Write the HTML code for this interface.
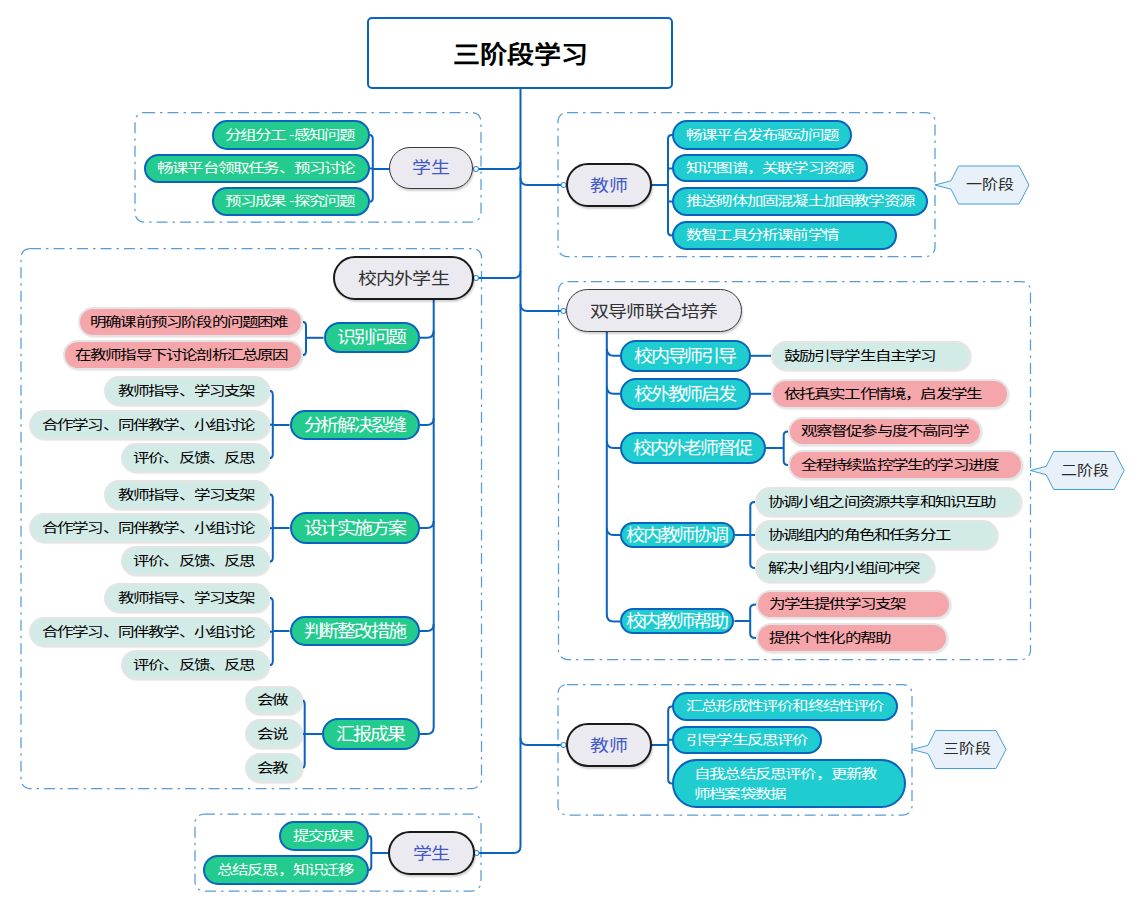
<!DOCTYPE html>
<html lang="zh-CN"><head><meta charset="utf-8"><title>三阶段学习</title>
<style>
html,body{margin:0;padding:0;background:#fff;}
body{width:1142px;height:911px;position:relative;overflow:hidden;font-family:"Liberation Sans",sans-serif;}
svg{position:absolute;left:0;top:0;}
.n{position:absolute;box-sizing:border-box;display:flex;align-items:center;justify-content:center;white-space:nowrap;line-height:1;}
.p{border-radius:999px;}
</style></head><body>
<svg width="1142" height="911" viewBox="0 0 1142 911">
<rect x="135" y="112.5" width="346" height="109.5" rx="9" ry="9" fill="none" stroke="#559cd8" stroke-width="1.25" stroke-dasharray="11 5 2.5 5"/>
<rect x="558" y="112.5" width="377" height="144.0" rx="9" ry="9" fill="none" stroke="#559cd8" stroke-width="1.25" stroke-dasharray="11 5 2.5 5"/>
<rect x="21" y="248.5" width="460.5" height="540.0" rx="9" ry="9" fill="none" stroke="#559cd8" stroke-width="1.25" stroke-dasharray="11 5 2.5 5"/>
<rect x="558.5" y="281.5" width="472.0" height="378.0" rx="9" ry="9" fill="none" stroke="#559cd8" stroke-width="1.25" stroke-dasharray="11 5 2.5 5"/>
<rect x="195" y="814" width="286" height="77" rx="9" ry="9" fill="none" stroke="#559cd8" stroke-width="1.25" stroke-dasharray="11 5 2.5 5"/>
<rect x="558" y="684.5" width="354" height="130.5" rx="9" ry="9" fill="none" stroke="#559cd8" stroke-width="1.25" stroke-dasharray="11 5 2.5 5"/>
<path d="M520.5 88 V846" stroke="#0a63bd" stroke-width="2" fill="none" />
<path d="M476 169 H513.5 Q520.5 169 520.5 162" stroke="#0a63bd" stroke-width="2" fill="none" />
<path d="M476 278 H513.5 Q520.5 278 520.5 271" stroke="#0a63bd" stroke-width="2" fill="none" />
<path d="M476.5 853 H513.5 Q520.5 853 520.5 846" stroke="#0a63bd" stroke-width="2" fill="none" />
<path d="M520.5 178 Q520.5 185 527.5 185 H563.5" stroke="#0a63bd" stroke-width="2" fill="none" />
<path d="M520.5 304 Q520.5 311 527.5 311 H563.5" stroke="#0a63bd" stroke-width="2" fill="none" />
<path d="M520.5 738 Q520.5 745 527.5 745 H563.5" stroke="#0a63bd" stroke-width="2" fill="none" />
<path d="M369.5 135 Q372.8 135 372.8 139 V197.75 Q372.8 201.75 369.5 201.75" stroke="#0a63bd" stroke-width="2" fill="none" />
<path d="M372.8 168.5 H369.5" stroke="#0a63bd" stroke-width="2" fill="none" />
<path d="M372.8 169 H389" stroke="#0a63bd" stroke-width="2" fill="none" />
<path d="M672 135 Q668 135 668 139 V231.5 Q668 235.5 672 235.5" stroke="#0a63bd" stroke-width="2" fill="none" />
<path d="M668 168.5 H672" stroke="#0a63bd" stroke-width="2" fill="none" />
<path d="M668 201.5 H672" stroke="#0a63bd" stroke-width="2" fill="none" />
<path d="M668 185 H652" stroke="#0a63bd" stroke-width="2" fill="none" />
<path d="M369 836 Q371.3 836 371.3 840 V866 Q371.3 870 369 870" stroke="#0a63bd" stroke-width="2" fill="none" />
<path d="M371.3 853 H388.5" stroke="#0a63bd" stroke-width="2" fill="none" />
<path d="M672 706.5 Q668.2 706.5 668.2 710.5 V779.5 Q668.2 783.5 672 783.5" stroke="#0a63bd" stroke-width="2" fill="none" />
<path d="M668.2 739.75 H672" stroke="#0a63bd" stroke-width="2" fill="none" />
<path d="M668.2 745 H651.5" stroke="#0a63bd" stroke-width="2" fill="none" />
<path d="M433.7 299 V726.9 Q433.7 733.9 426.7 733.9 H420" stroke="#0a63bd" stroke-width="2" fill="none" />
<path d="M433.7 330.8 Q433.7 337.8 426.7 337.8 H420" stroke="#0a63bd" stroke-width="2" fill="none" />
<path d="M433.7 418 Q433.7 425 426.7 425 H420" stroke="#0a63bd" stroke-width="2" fill="none" />
<path d="M433.7 521 Q433.7 528 426.7 528 H420" stroke="#0a63bd" stroke-width="2" fill="none" />
<path d="M433.7 624 Q433.7 631 426.7 631 H420" stroke="#0a63bd" stroke-width="2" fill="none" />
<path d="M303 322 Q306 322 306 326 V351 Q306 355 303 355" stroke="#0a63bd" stroke-width="2" fill="none" />
<path d="M306 337.8 H323.5" stroke="#0a63bd" stroke-width="2" fill="none" />
<path d="M270 391 Q272.8 391 272.8 395 V454 Q272.8 458 270 458" stroke="#0a63bd" stroke-width="2" fill="none" />
<path d="M272.8 424.7 H270" stroke="#0a63bd" stroke-width="2" fill="none" />
<path d="M272.8 425 H289.5" stroke="#0a63bd" stroke-width="2" fill="none" />
<path d="M270 494.5 Q272.8 494.5 272.8 498.5 V557.5 Q272.8 561.5 270 561.5" stroke="#0a63bd" stroke-width="2" fill="none" />
<path d="M272.8 528.2 H270" stroke="#0a63bd" stroke-width="2" fill="none" />
<path d="M272.8 528 H289.5" stroke="#0a63bd" stroke-width="2" fill="none" />
<path d="M270 598 Q272.8 598 272.8 602 V661 Q272.8 665 270 665" stroke="#0a63bd" stroke-width="2" fill="none" />
<path d="M272.8 631.7 H270" stroke="#0a63bd" stroke-width="2" fill="none" />
<path d="M272.8 631 H289.5" stroke="#0a63bd" stroke-width="2" fill="none" />
<path d="M303 700.75 Q304.7 700.75 304.7 704.75 V763.5 Q304.7 767.5 303 767.5" stroke="#0a63bd" stroke-width="2" fill="none" />
<path d="M304.7 734 H303" stroke="#0a63bd" stroke-width="2" fill="none" />
<path d="M304.7 734 H322" stroke="#0a63bd" stroke-width="2" fill="none" />
<path d="M606.8 331.5 V614.5 Q606.8 621.5 613.8 621.5 H620" stroke="#0a63bd" stroke-width="2" fill="none" />
<path d="M606.8 348.8 Q606.8 355.8 613.8 355.8 H620" stroke="#0a63bd" stroke-width="2" fill="none" />
<path d="M606.8 386.8 Q606.8 393.8 613.8 393.8 H620" stroke="#0a63bd" stroke-width="2" fill="none" />
<path d="M606.8 441 Q606.8 448 613.8 448 H620" stroke="#0a63bd" stroke-width="2" fill="none" />
<path d="M606.8 528 Q606.8 535 613.8 535 H620" stroke="#0a63bd" stroke-width="2" fill="none" />
<path d="M750.5 355.8 H771" stroke="#0a63bd" stroke-width="2" fill="none" />
<path d="M750.5 393.8 H771.5" stroke="#0a63bd" stroke-width="2" fill="none" />
<path d="M788 431.5 Q783.7 431.5 783.7 435.5 V461 Q783.7 465 788 465" stroke="#0a63bd" stroke-width="2" fill="none" />
<path d="M783.7 448 H766" stroke="#0a63bd" stroke-width="2" fill="none" />
<path d="M755 502 Q750.3 502 750.3 506 V564 Q750.3 568 755 568" stroke="#0a63bd" stroke-width="2" fill="none" />
<path d="M750.3 535 H755" stroke="#0a63bd" stroke-width="2" fill="none" />
<path d="M750.3 535 H735" stroke="#0a63bd" stroke-width="2" fill="none" />
<path d="M756 604.5 Q750.2 604.5 750.2 608.5 V634 Q750.2 638 756 638" stroke="#0a63bd" stroke-width="2" fill="none" />
<path d="M750.2 621 H734.5" stroke="#0a63bd" stroke-width="2" fill="none" />
<circle cx="476" cy="169" r="2.5" fill="#fff" stroke="#3d8fd6" stroke-width="1.1"/>
<circle cx="563.6" cy="185" r="2.5" fill="#fff" stroke="#3d8fd6" stroke-width="1.1"/>
<circle cx="476" cy="278" r="2.5" fill="#fff" stroke="#3d8fd6" stroke-width="1.1"/>
<circle cx="563.4" cy="311" r="2.5" fill="#fff" stroke="#3d8fd6" stroke-width="1.1"/>
<circle cx="563.5" cy="745" r="2.5" fill="#fff" stroke="#3d8fd6" stroke-width="1.1"/>
<circle cx="476.5" cy="853" r="2.5" fill="#fff" stroke="#3d8fd6" stroke-width="1.1"/>
<polygon points="958.5,166 1019,166 1029,185 1019,204 958.5,204 951,189.2 935,185 951,180.8" fill="#e8f0f9" stroke="#45a0d8" stroke-width="1"/>
<polygon points="1053.7,451.5 1114.2,451.5 1124.2,470.5 1114.2,489.5 1053.7,489.5 1046.2,474.7 1030.2,470.5 1046.2,466.3" fill="#e8f0f9" stroke="#45a0d8" stroke-width="1"/>
<polygon points="935.5,730.5 996,730.5 1006,749.5 996,768.5 935.5,768.5 928,753.7 912,749.5 928,745.3" fill="#e8f0f9" stroke="#45a0d8" stroke-width="1"/>
</svg>
<div class="n" style="left:367px;top:17px;width:306px;height:72px;border:2px solid #0a63bd;border-radius:5px;background:#fff;font-weight:bold;color:#000;padding-top:5px;"><span style="font-size:27px;display:inline-block;transform:translateY(0px) scaleY(0.88)">三阶段学习</span></div>
<div class="n p" style="left:389px;top:147px;width:84px;height:42px;border:1.5px solid #3a3a3a;background:#eaeaf0;color:#4458c8;box-shadow:1px 2px 2px rgba(0,0,0,.18);font-weight:350;"><span style="font-size:19px;letter-spacing:-0.75px;margin-right:0.75px;display:inline-block;transform:translateY(-1.3px) scaleY(0.86)">学生</span></div>
<div class="n p" style="left:212px;top:120px;width:158px;height:30px;border:2px solid #0a63bd;background:#23cb8e;color:#fff;font-weight:350;justify-content:flex-end;padding-right:11.7px;"><span style="font-size:16.5px;letter-spacing:-1.8px;margin-right:1.8px;display:inline-block;transform:translateY(-0.5px) scaleY(0.76)">分组分工<span style="margin-left:3.5px;margin-right:1px">-</span>感知问题</span></div>
<div class="n p" style="left:144px;top:154px;width:226px;height:29px;border:2px solid #0a63bd;background:#23cb8e;color:#fff;font-weight:350;justify-content:flex-end;padding-right:11.7px;"><span style="font-size:16.5px;letter-spacing:-1.8px;margin-right:1.8px;display:inline-block;transform:translateY(-0.5px) scaleY(0.76)">畅课平台领取任务、预习讨论</span></div>
<div class="n p" style="left:212px;top:187px;width:158px;height:29px;border:2px solid #0a63bd;background:#23cb8e;color:#fff;font-weight:350;justify-content:flex-end;padding-right:11.7px;"><span style="font-size:16.5px;letter-spacing:-1.8px;margin-right:1.8px;display:inline-block;transform:translateY(-0.5px) scaleY(0.76)">预习成果<span style="margin-left:3.5px;margin-right:1px">-</span>探究问题</span></div>
<div class="n p" style="left:566px;top:163px;width:86px;height:44px;border:2px solid #1a1a1a;background:#eaeaf0;color:#4458c8;box-shadow:1px 2px 2px rgba(0,0,0,.18);font-weight:350;"><span style="font-size:19px;letter-spacing:-0.75px;margin-right:0.75px;display:inline-block;transform:translateY(-0.5px) scaleY(0.86)">教师</span></div>
<div class="n p" style="left:672px;top:120px;width:180px;height:30px;border:2px solid #0a63bd;background:#1fcdd1;color:#fff;font-weight:350;justify-content:flex-start;padding-left:12px;"><span style="font-size:16.5px;letter-spacing:-1.8px;margin-right:1.8px;display:inline-block;transform:translateY(-0.5px) scaleY(0.76)">畅课平台发布驱动问题</span></div>
<div class="n p" style="left:672px;top:154px;width:196px;height:28px;border:2px solid #0a63bd;background:#1fcdd1;color:#fff;font-weight:350;justify-content:flex-start;padding-left:12px;"><span style="font-size:16.5px;letter-spacing:-1.8px;margin-right:1.8px;display:inline-block;transform:translateY(-0.5px) scaleY(0.76)">知识图谱，关联学习资源</span></div>
<div class="n p" style="left:672px;top:187px;width:256px;height:29px;border:2px solid #0a63bd;background:#1fcdd1;color:#fff;font-weight:350;justify-content:flex-start;padding-left:12px;"><span style="font-size:16.5px;letter-spacing:-1.8px;margin-right:1.8px;display:inline-block;transform:translateY(-0.5px) scaleY(0.76)">推送砌体加固混凝土加固教学资源</span></div>
<div class="n p" style="left:672px;top:221px;width:225px;height:29px;border:2px solid #0a63bd;background:#1fcdd1;color:#fff;font-weight:350;justify-content:flex-start;padding-left:12px;"><span style="font-size:16.5px;letter-spacing:-1.8px;margin-right:1.8px;display:inline-block;transform:translateY(-0.5px) scaleY(0.76)">数智工具分析课前学情</span></div>
<div class="n p" style="left:333px;top:256px;width:141px;height:44px;border:2px solid #1a1a1a;background:#eaeaf0;color:#333;box-shadow:1px 2px 2px rgba(0,0,0,.18);font-weight:350;"><span style="font-size:19px;letter-spacing:-0.75px;margin-right:0.75px;display:inline-block;transform:translateY(-0.5px) scaleY(0.86)">校内外学生</span></div>
<div class="n p" style="left:324px;top:322px;width:96px;height:31px;border:2px solid #0a63bd;background:#23cb8e;color:#fff;font-weight:350;"><span style="font-size:19px;letter-spacing:-2.2px;margin-right:2.2px;display:inline-block;transform:translateY(0px) scaleY(0.92)">识别问题</span></div>
<div class="n p" style="left:78px;top:307px;width:225px;height:30px;border:2px solid #e4e4e4;background:#f4a6aa;color:#000;box-shadow:1px 1px 1px rgba(0,0,0,.08);justify-content:flex-end;padding-right:11.7px;"><span style="font-size:16.5px;letter-spacing:-1.8px;margin-right:1.8px;display:inline-block;transform:translateY(-0.5px) scaleY(0.76)">明确课前预习阶段的问题困难</span></div>
<div class="n p" style="left:63px;top:340px;width:240px;height:30px;border:2px solid #e4e4e4;background:#f4a6aa;color:#000;box-shadow:1px 1px 1px rgba(0,0,0,.08);justify-content:flex-end;padding-right:11.7px;"><span style="font-size:16.5px;letter-spacing:-1.8px;margin-right:1.8px;display:inline-block;transform:translateY(-0.5px) scaleY(0.76)">在教师指导下讨论剖析汇总原因</span></div>
<div class="n p" style="left:290px;top:410px;width:130px;height:30px;border:2px solid #0a63bd;background:#23cb8e;color:#fff;font-weight:350;"><span style="font-size:19px;letter-spacing:-2.2px;margin-right:2.2px;display:inline-block;transform:translateY(0px) scaleY(0.92)">分析解决裂缝</span></div>
<div class="n p" style="left:104px;top:376px;width:166px;height:30px;border:2px solid #e4e4e4;background:#d3ebe7;color:#000;box-shadow:1px 1px 1px rgba(0,0,0,.08);justify-content:flex-end;padding-right:11.7px;"><span style="font-size:16.5px;letter-spacing:-1.8px;margin-right:1.8px;display:inline-block;transform:translateY(-0.5px) scaleY(0.76)">教师指导、学习支架</span></div>
<div class="n p" style="left:29px;top:410px;width:241px;height:30px;border:2px solid #e4e4e4;background:#d3ebe7;color:#000;box-shadow:1px 1px 1px rgba(0,0,0,.08);justify-content:flex-end;padding-right:11.7px;"><span style="font-size:16.5px;letter-spacing:-1.8px;margin-right:1.8px;display:inline-block;transform:translateY(-0.5px) scaleY(0.76)">合作学习、同伴教学、小组讨论</span></div>
<div class="n p" style="left:121px;top:443px;width:149px;height:30px;border:2px solid #e4e4e4;background:#d3ebe7;color:#000;box-shadow:1px 1px 1px rgba(0,0,0,.08);justify-content:flex-end;padding-right:11.7px;"><span style="font-size:16.5px;letter-spacing:-1.8px;margin-right:1.8px;display:inline-block;transform:translateY(-0.5px) scaleY(0.76)">评价、反馈、反思</span></div>
<div class="n p" style="left:290px;top:512px;width:130px;height:32px;border:2px solid #0a63bd;background:#23cb8e;color:#fff;font-weight:350;"><span style="font-size:19px;letter-spacing:-2.2px;margin-right:2.2px;display:inline-block;transform:translateY(0px) scaleY(0.92)">设计实施方案</span></div>
<div class="n p" style="left:104px;top:480px;width:166px;height:30px;border:2px solid #e4e4e4;background:#d3ebe7;color:#000;box-shadow:1px 1px 1px rgba(0,0,0,.08);justify-content:flex-end;padding-right:11.7px;"><span style="font-size:16.5px;letter-spacing:-1.8px;margin-right:1.8px;display:inline-block;transform:translateY(-0.5px) scaleY(0.76)">教师指导、学习支架</span></div>
<div class="n p" style="left:29px;top:513px;width:241px;height:30px;border:2px solid #e4e4e4;background:#d3ebe7;color:#000;box-shadow:1px 1px 1px rgba(0,0,0,.08);justify-content:flex-end;padding-right:11.7px;"><span style="font-size:16.5px;letter-spacing:-1.8px;margin-right:1.8px;display:inline-block;transform:translateY(-0.5px) scaleY(0.76)">合作学习、同伴教学、小组讨论</span></div>
<div class="n p" style="left:121px;top:546px;width:149px;height:30px;border:2px solid #e4e4e4;background:#d3ebe7;color:#000;box-shadow:1px 1px 1px rgba(0,0,0,.08);justify-content:flex-end;padding-right:11.7px;"><span style="font-size:16.5px;letter-spacing:-1.8px;margin-right:1.8px;display:inline-block;transform:translateY(-0.5px) scaleY(0.76)">评价、反馈、反思</span></div>
<div class="n p" style="left:290px;top:616px;width:130px;height:30px;border:2px solid #0a63bd;background:#23cb8e;color:#fff;font-weight:350;"><span style="font-size:19px;letter-spacing:-2.2px;margin-right:2.2px;display:inline-block;transform:translateY(0px) scaleY(0.92)">判断整改措施</span></div>
<div class="n p" style="left:104px;top:583px;width:166px;height:30px;border:2px solid #e4e4e4;background:#d3ebe7;color:#000;box-shadow:1px 1px 1px rgba(0,0,0,.08);justify-content:flex-end;padding-right:11.7px;"><span style="font-size:16.5px;letter-spacing:-1.8px;margin-right:1.8px;display:inline-block;transform:translateY(-0.5px) scaleY(0.76)">教师指导、学习支架</span></div>
<div class="n p" style="left:29px;top:617px;width:241px;height:30px;border:2px solid #e4e4e4;background:#d3ebe7;color:#000;box-shadow:1px 1px 1px rgba(0,0,0,.08);justify-content:flex-end;padding-right:11.7px;"><span style="font-size:16.5px;letter-spacing:-1.8px;margin-right:1.8px;display:inline-block;transform:translateY(-0.5px) scaleY(0.76)">合作学习、同伴教学、小组讨论</span></div>
<div class="n p" style="left:121px;top:650px;width:149px;height:30px;border:2px solid #e4e4e4;background:#d3ebe7;color:#000;box-shadow:1px 1px 1px rgba(0,0,0,.08);justify-content:flex-end;padding-right:11.7px;"><span style="font-size:16.5px;letter-spacing:-1.8px;margin-right:1.8px;display:inline-block;transform:translateY(-0.5px) scaleY(0.76)">评价、反馈、反思</span></div>
<div class="n p" style="left:322px;top:718px;width:98px;height:32px;border:2px solid #0a63bd;background:#23cb8e;color:#fff;font-weight:350;"><span style="font-size:19px;letter-spacing:-2.2px;margin-right:2.2px;display:inline-block;transform:translateY(0px) scaleY(0.92)">汇报成果</span></div>
<div class="n p" style="left:245px;top:686px;width:58px;height:29px;border:2px solid #e4e4e4;background:#d3ebe7;color:#000;box-shadow:1px 1px 1px rgba(0,0,0,.08);justify-content:flex-end;padding-right:11.7px;"><span style="font-size:16.5px;letter-spacing:-1.8px;margin-right:1.8px;display:inline-block;transform:translateY(-0.5px) scaleY(0.76)">会做</span></div>
<div class="n p" style="left:245px;top:719px;width:58px;height:30px;border:2px solid #e4e4e4;background:#d3ebe7;color:#000;box-shadow:1px 1px 1px rgba(0,0,0,.08);justify-content:flex-end;padding-right:11.7px;"><span style="font-size:16.5px;letter-spacing:-1.8px;margin-right:1.8px;display:inline-block;transform:translateY(-0.5px) scaleY(0.76)">会说</span></div>
<div class="n p" style="left:245px;top:753px;width:58px;height:30px;border:2px solid #e4e4e4;background:#d3ebe7;color:#000;box-shadow:1px 1px 1px rgba(0,0,0,.08);justify-content:flex-end;padding-right:11.7px;"><span style="font-size:16.5px;letter-spacing:-1.8px;margin-right:1.8px;display:inline-block;transform:translateY(-0.5px) scaleY(0.76)">会教</span></div>
<div class="n p" style="left:566px;top:289px;width:176px;height:43px;border:1.5px solid #3a3a3a;background:#eaeaf0;color:#333;box-shadow:1px 2px 2px rgba(0,0,0,.18);font-weight:350;"><span style="font-size:19px;letter-spacing:-0.75px;margin-right:0.75px;display:inline-block;transform:translateY(0.8px) scaleY(0.86)">双导师联合培养</span></div>
<div class="n p" style="left:620px;top:340px;width:131px;height:32px;border:2px solid #0a63bd;background:#1fcdd1;color:#fff;font-weight:350;"><span style="font-size:19px;letter-spacing:-2.2px;margin-right:2.2px;display:inline-block;transform:translateY(0px) scaleY(0.92)">校内导师引导</span></div>
<div class="n p" style="left:771px;top:341px;width:200px;height:30px;border:2px solid #e4e4e4;background:#d3ebe7;color:#000;box-shadow:1px 1px 1px rgba(0,0,0,.08);justify-content:flex-start;padding-left:10.5px;"><span style="font-size:16.5px;letter-spacing:-1.8px;margin-right:1.8px;display:inline-block;transform:translateY(-0.5px) scaleY(0.76)">鼓励引导学生自主学习</span></div>
<div class="n p" style="left:620px;top:378px;width:131px;height:32px;border:2px solid #0a63bd;background:#1fcdd1;color:#fff;font-weight:350;"><span style="font-size:19px;letter-spacing:-2.2px;margin-right:2.2px;display:inline-block;transform:translateY(0px) scaleY(0.92)">校外教师启发</span></div>
<div class="n p" style="left:771px;top:379px;width:238px;height:30px;border:2px solid #e4e4e4;background:#f4a6aa;color:#000;box-shadow:1px 1px 1px rgba(0,0,0,.08);justify-content:flex-start;padding-left:10.5px;"><span style="font-size:16.5px;letter-spacing:-1.8px;margin-right:1.8px;display:inline-block;transform:translateY(-0.5px) scaleY(0.76)">依托真实工作情境，启发学生</span></div>
<div class="n p" style="left:620px;top:432px;width:146px;height:32px;border:2px solid #0a63bd;background:#1fcdd1;color:#fff;font-weight:350;"><span style="font-size:19px;letter-spacing:-2.2px;margin-right:2.2px;display:inline-block;transform:translateY(0px) scaleY(0.92)">校内外老师督促</span></div>
<div class="n p" style="left:788px;top:417px;width:194px;height:29px;border:2px solid #e4e4e4;background:#f4a6aa;color:#000;box-shadow:1px 1px 1px rgba(0,0,0,.08);justify-content:flex-start;padding-left:10.5px;"><span style="font-size:16.5px;letter-spacing:-1.8px;margin-right:1.8px;display:inline-block;transform:translateY(-0.5px) scaleY(0.76)">观察督促参与度不高同学</span></div>
<div class="n p" style="left:788px;top:450px;width:235px;height:30px;border:2px solid #e4e4e4;background:#f4a6aa;color:#000;box-shadow:1px 1px 1px rgba(0,0,0,.08);justify-content:flex-start;padding-left:10.5px;"><span style="font-size:16.5px;letter-spacing:-1.8px;margin-right:1.8px;display:inline-block;transform:translateY(-0.5px) scaleY(0.76)">全程持续监控学生的学习进度</span></div>
<div class="n p" style="left:620px;top:522px;width:115px;height:26px;border:2px solid #0a63bd;background:#1fcdd1;color:#fff;font-weight:350;"><span style="font-size:19px;letter-spacing:-2.2px;margin-right:2.2px;display:inline-block;transform:translateY(0px) scaleY(0.92)">校内教师协调</span></div>
<div class="n p" style="left:755px;top:487px;width:267px;height:30px;border:2px solid #e4e4e4;background:#d3ebe7;color:#000;box-shadow:1px 1px 1px rgba(0,0,0,.08);justify-content:flex-start;padding-left:10.5px;"><span style="font-size:16.5px;letter-spacing:-1.8px;margin-right:1.8px;display:inline-block;transform:translateY(-0.5px) scaleY(0.76)">协调小组之间资源共享和知识互助</span></div>
<div class="n p" style="left:755px;top:520px;width:243px;height:30px;border:2px solid #e4e4e4;background:#d3ebe7;color:#000;box-shadow:1px 1px 1px rgba(0,0,0,.08);justify-content:flex-start;padding-left:10.5px;"><span style="font-size:16.5px;letter-spacing:-1.8px;margin-right:1.8px;display:inline-block;transform:translateY(-0.5px) scaleY(0.76)">协调组内的角色和任务分工</span></div>
<div class="n p" style="left:755px;top:553px;width:180px;height:30px;border:2px solid #e4e4e4;background:#d3ebe7;color:#000;box-shadow:1px 1px 1px rgba(0,0,0,.08);justify-content:flex-start;padding-left:10.5px;"><span style="font-size:16.5px;letter-spacing:-1.8px;margin-right:1.8px;display:inline-block;transform:translateY(-0.5px) scaleY(0.76)">解决小组内小组间冲突</span></div>
<div class="n p" style="left:620px;top:608px;width:114px;height:26px;border:2px solid #0a63bd;background:#1fcdd1;color:#fff;font-weight:350;"><span style="font-size:19px;letter-spacing:-2.2px;margin-right:2.2px;display:inline-block;transform:translateY(0px) scaleY(0.92)">校内教师帮助</span></div>
<div class="n p" style="left:756px;top:590px;width:195px;height:29px;border:2px solid #e4e4e4;background:#f4a6aa;color:#000;box-shadow:1px 1px 1px rgba(0,0,0,.08);justify-content:flex-start;padding-left:10.5px;"><span style="font-size:16.5px;letter-spacing:-1.8px;margin-right:1.8px;display:inline-block;transform:translateY(-0.5px) scaleY(0.76)">为学生提供学习支架</span></div>
<div class="n p" style="left:756px;top:623px;width:192px;height:30px;border:2px solid #e4e4e4;background:#f4a6aa;color:#000;box-shadow:1px 1px 1px rgba(0,0,0,.08);justify-content:flex-start;padding-left:10.5px;"><span style="font-size:16.5px;letter-spacing:-1.8px;margin-right:1.8px;display:inline-block;transform:translateY(-0.5px) scaleY(0.76)">提供个性化的帮助</span></div>
<div class="n p" style="left:388px;top:831px;width:87px;height:44px;border:2px solid #1a1a1a;background:#eaeaf0;color:#4458c8;box-shadow:1px 2px 2px rgba(0,0,0,.18);font-weight:350;"><span style="font-size:19px;letter-spacing:-0.75px;margin-right:0.75px;display:inline-block;transform:translateY(-0.5px) scaleY(0.86)">学生</span></div>
<div class="n p" style="left:279px;top:821px;width:90px;height:30px;border:2px solid #0a63bd;background:#23cb8e;color:#fff;font-weight:350;justify-content:flex-end;padding-right:11.7px;"><span style="font-size:16.5px;letter-spacing:-1.8px;margin-right:1.8px;display:inline-block;transform:translateY(-0.5px) scaleY(0.76)">提交成果</span></div>
<div class="n p" style="left:203px;top:855px;width:166px;height:30px;border:2px solid #0a63bd;background:#23cb8e;color:#fff;font-weight:350;justify-content:flex-end;padding-right:11.7px;"><span style="font-size:16.5px;letter-spacing:-1.8px;margin-right:1.8px;display:inline-block;transform:translateY(-0.5px) scaleY(0.76)">总结反思，知识迁移</span></div>
<div class="n p" style="left:566px;top:723px;width:86px;height:44px;border:2px solid #1a1a1a;background:#eaeaf0;color:#4458c8;box-shadow:1px 2px 2px rgba(0,0,0,.18);font-weight:350;"><span style="font-size:19px;letter-spacing:-0.75px;margin-right:0.75px;display:inline-block;transform:translateY(-0.5px) scaleY(0.86)">教师</span></div>
<div class="n p" style="left:672px;top:692px;width:226px;height:29px;border:2px solid #0a63bd;background:#1fcdd1;color:#fff;font-weight:350;justify-content:flex-start;padding-left:12px;"><span style="font-size:16.5px;letter-spacing:-1.8px;margin-right:1.8px;display:inline-block;transform:translateY(-0.5px) scaleY(0.76)">汇总形成性评价和终结性评价</span></div>
<div class="n p" style="left:672px;top:726px;width:150px;height:28px;border:2px solid #0a63bd;background:#1fcdd1;color:#fff;font-weight:350;justify-content:flex-start;padding-left:12px;"><span style="font-size:16.5px;letter-spacing:-1.8px;margin-right:1.8px;display:inline-block;transform:translateY(-0.5px) scaleY(0.76)">引导学生反思评价</span></div>
<div class="n p" style="left:672px;top:759px;width:234px;height:49px;border:2px solid #0a63bd;background:#1fcdd1;color:#fff;font-weight:350;justify-content:flex-start;padding-left:12px;line-height:26.3px;text-align:left;padding-left:20px;"><span style="font-size:16.5px;letter-spacing:-1.8px;margin-right:1.8px;display:inline-block;transform:translateY(0.3px) scaleY(0.76)">自我总结反思评价，更新教<br>师档案袋数据</span></div>
<div class="n" style="left:951px;top:166px;width:78px;height:38px;color:#2a2a2a;font-weight:350;"><span style="font-size:16px;display:inline-block;transform:translateY(-0.5px) scaleY(0.85)">一阶段</span></div>
<div class="n" style="left:1046px;top:452px;width:78px;height:38px;color:#2a2a2a;font-weight:350;"><span style="font-size:16px;display:inline-block;transform:translateY(-0.5px) scaleY(0.85)">二阶段</span></div>
<div class="n" style="left:928px;top:730px;width:78px;height:38px;color:#2a2a2a;font-weight:350;"><span style="font-size:16px;display:inline-block;transform:translateY(-0.5px) scaleY(0.85)">三阶段</span></div>
</body></html>
